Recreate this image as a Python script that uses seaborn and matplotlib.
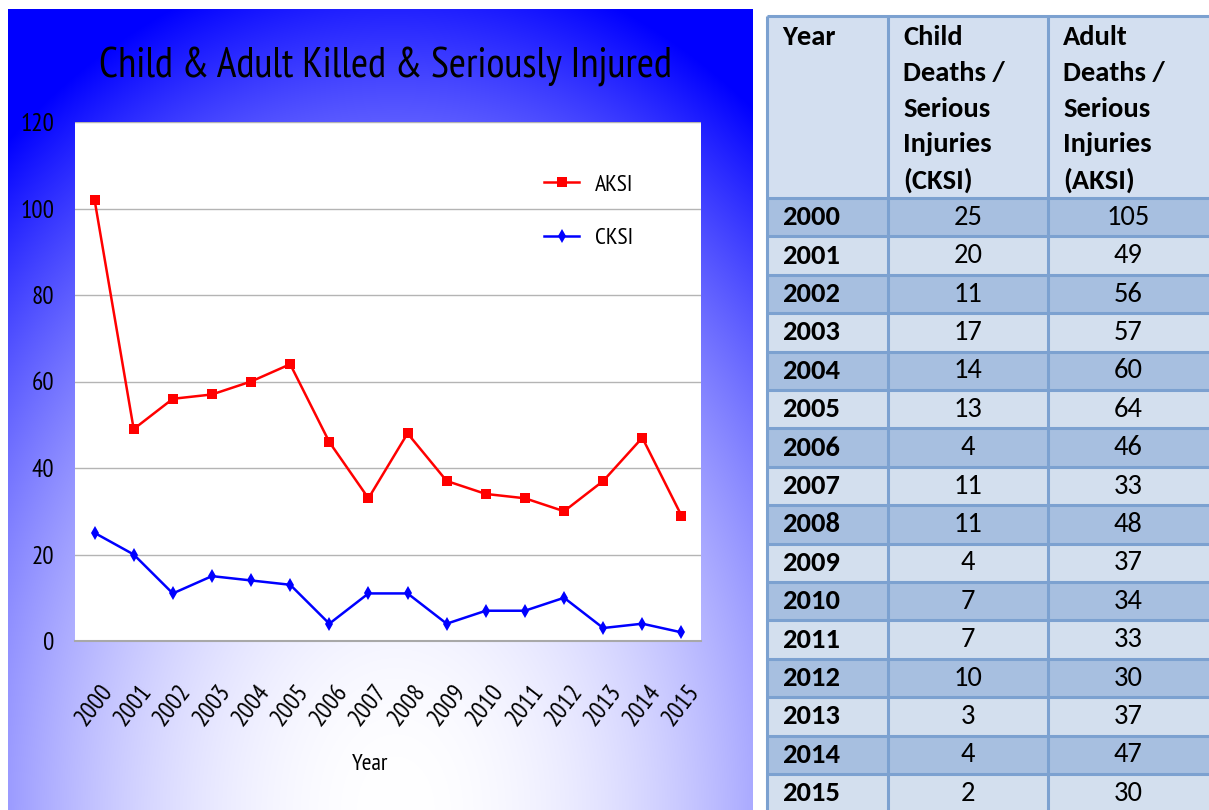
import numpy as np
import pandas as pd
import matplotlib
matplotlib.use("Agg")
import matplotlib.pyplot as plt
import seaborn as sns
from matplotlib.patches import Rectangle
from matplotlib.lines import Line2D

# chart values
years = [str(y) for y in range(2000, 2016)]
aksi = [102, 49, 56, 57, 60, 64, 46, 33, 48, 37, 34, 33, 30, 37, 47, 29]
cksi = [25, 20, 11, 15, 14, 13, 4, 11, 11, 4, 7, 7, 10, 3, 4, 2]
y_ticks = [0, 20, 40, 60, 80, 100, 120]

# table values (right hand side)
table_header = ["Year",
                "Child\nDeaths /\nSerious\nInjuries\n(CKSI)",
                "Adult\nDeaths /\nSerious\nInjuries\n(AKSI)"]
table_cksi = [25, 20, 11, 17, 14, 13, 4, 11, 11, 4, 7, 7, 10, 3, 4, 2]
table_aksi = [105, 49, 56, 57, 60, 64, 46, 33, 48, 37, 34, 33, 30, 37, 47, 30]

W, H = 1209, 810
narrow = ["PT Sans Narrow", "Carlito", "DejaVu Sans"]
tfont = ["Carlito", "Open Sans", "DejaVu Sans"]
plt.rcParams["font.family"] = narrow

fig = plt.figure(figsize=(W / 100, H / 100), dpi=100)
fig.patch.set_facecolor("white")

# --- blue gradient panel behind the chart ---
px0, px1, py0, py1 = 8, 753, 9, 810
pw, ph = px1 - px0, py1 - py0
gx, gy = np.meshgrid(np.arange(pw), np.arange(ph))
dx = gx - pw * 0.52
dy = ph - gy
f = np.clip((dx / 620.0) ** 2 + (dy / 860.0) ** 2, 0, 1)
img = np.ones((ph, pw, 3))
img[..., 0] = 1 - f
img[..., 1] = 1 - f
bg = fig.add_axes([px0 / W, 1 - py1 / H, pw / W, ph / H])
bg.imshow(img, aspect="auto", interpolation="bilinear")
bg.axis("off")

# --- line chart ---
ax = fig.add_axes([75 / W, 1 - 641 / H, (701 - 75) / W, (641 - 122) / H])
ax.set_facecolor("white")

df = pd.DataFrame({
    "pos": list(range(len(years))) * 2,
    "value": aksi + cksi,
    "series": ["AKSI"] * len(years) + ["CKSI"] * len(years),
})
colors = {"AKSI": "#ff0000", "CKSI": "#0000ff"}
marks = {"AKSI": "s", "CKSI": "d"}
sns.lineplot(data=df, x="pos", y="value", hue="series", style="series",
             palette=colors, markers=marks, dashes=False, markersize=7.5,
             markeredgewidth=0, linewidth=1.8, ax=ax, legend=False)

ax.set_xlim(-0.5, len(years) - 0.5)
ax.set_ylim(0, 120)
ax.set_xticks(range(len(years)))
ax.set_xticklabels(years, rotation=52, ha="center", va="top", fontsize=18)
ax.set_yticks(y_ticks)
ax.set_yticklabels([str(t) for t in y_ticks], fontsize=18)
ax.tick_params(axis="x", length=0, pad=28)
ax.tick_params(axis="y", length=0, pad=15)
ax.set_xlabel("")
ax.set_ylabel("")
ax.yaxis.grid(True, color="#b4b4b4", lw=1)
ax.xaxis.grid(False)
ax.set_axisbelow(True)
for s in ["top", "right", "left"]:
    ax.spines[s].set_visible(False)
ax.spines["bottom"].set_color("#a8a8a8")
ax.spines["bottom"].set_linewidth(1.5)

handles = [Line2D([], [], color=colors[k], marker=marks[k], markersize=7.5,
                  markeredgewidth=0, lw=1.8) for k in ["AKSI", "CKSI"]]
ax.legend(handles, ["AKSI", "CKSI"], loc="upper left", frameon=False,
          bbox_to_anchor=((544 - 75) / (701 - 75), 1 - (174 - 122) / (641 - 122)),
          fontsize=17, handlelength=1.5, handletextpad=0.65, labelspacing=1.35,
          borderpad=0, borderaxespad=0)

fig.text(385 / W, 1 - 67 / H, "Child & Adult Killed & Seriously Injured",
         ha="center", va="center", fontsize=30)
fig.text(370 / W, 1 - 764 / H, "Year", ha="center", va="center", fontsize=17)

# --- data table ---
tax = fig.add_axes([0, 0, 1, 1])
tax.set_xlim(0, W)
tax.set_ylim(H, 0)
tax.axis("off")
border = "#7ca1d0"
head_fill, dark_fill, light_fill = "#d3dff0", "#a7bfe0", "#d3dfee"
col_x = [767, 888, 1048, 1220]
top, head_bot, row_h = 16, 198, 38.4

tax.add_patch(Rectangle((col_x[0], top), col_x[-1] - col_x[0], head_bot - top,
                        fc=head_fill, ec="none"))
for i in range(len(years)):
    y0 = head_bot + i * row_h
    tax.add_patch(Rectangle((col_x[0], y0), col_x[-1] - col_x[0], row_h,
                            fc=dark_fill if i % 2 == 0 else light_fill, ec="none"))
    yc = y0 + row_h / 2
    tax.text(782, yc, years[i], ha="left", va="center", fontsize=20.5,
             fontweight="bold", family=tfont)
    tax.text(968, yc, str(table_cksi[i]), ha="center", va="center",
             fontsize=20.5, family=tfont)
    tax.text(1128, yc, str(table_aksi[i]), ha="center", va="center",
             fontsize=20.5, family=tfont)

hx = [782, 903, 1063]
for c, label in enumerate(table_header):
    for k, line in enumerate(label.split("\n")):
        tax.text(hx[c], 37 + k * 35.8, line, ha="left", va="center",
                 fontsize=20.5, fontweight="bold", family=tfont)

ys = [top, head_bot] + [head_bot + i * row_h for i in range(1, len(years) + 1)]
for y in ys:
    tax.plot([col_x[0], col_x[-1]], [y, y], color=border, lw=2.2,
             solid_capstyle="butt")
for x in col_x[:3]:
    tax.plot([x, x], [top, H + 5], color=border, lw=2.2, solid_capstyle="butt")

fig.savefig("out.png", dpi=100)
